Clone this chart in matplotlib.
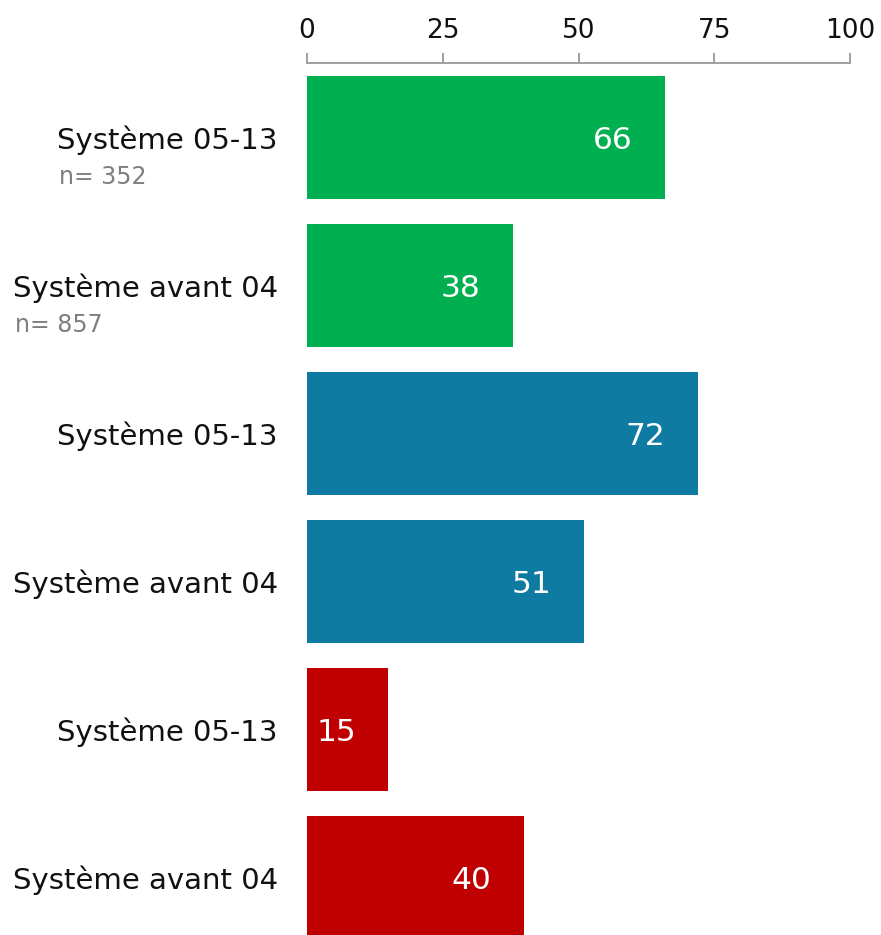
import matplotlib
matplotlib.use("Agg")
import matplotlib.pyplot as plt

plt.rcParams['font.family'] = ['DejaVu Sans']

categories = ["Système 05-13", "Système avant 04",
              "Système 05-13", "Système avant 04",
              "Système 05-13", "Système avant 04"]
values = [66, 38, 72, 51, 15, 40]
sample_sizes = ["n= 352", "n= 857", None, None, None, None]
bar_colors = ["#00B050", "#00B050", "#0F7BA3", "#0F7BA3", "#C00000", "#C00000"]
x_ticks = [0, 25, 50, 75, 100]

W, H, DPI = 881, 935, 100
fig = plt.figure(figsize=(W / DPI, H / DPI), dpi=DPI)
ax = fig.add_axes([307 / W, 0, (850 - 307) / W, 1 - 63 / H])

pos = list(range(len(values)))
ax.barh(pos, values, height=0.83, color=bar_colors, edgecolor="none")

ax.set_xlim(0, 100)
ax.set_ylim(5.39, -0.503)

# axis on top
ax.xaxis.set_ticks_position("top")
ax.xaxis.set_label_position("top")
ax.set_xticks(x_ticks)
ax.set_xticklabels([str(t) for t in x_ticks], fontsize=19, color="#111111")
ax.tick_params(axis="x", direction="out", length=7, width=1.3,
               color="#999999", pad=7)
for s in ["left", "right", "bottom"]:
    ax.spines[s].set_visible(False)
ax.spines["top"].set_color("#999999")
ax.spines["top"].set_linewidth(1.3)

# category labels
ax.set_yticks(pos)
ax.set_yticklabels(categories, fontsize=21, color="#111111")
ax.tick_params(axis="y", length=0, pad=21)

# value labels inside bars
for p, v in zip(pos, values):
    ax.text(v - 6, p + 0.02, f"{v}", ha="right", va="center", fontsize=22.5,
            color="white")

# sample sizes below the category labels, left-aligned with them
fig.canvas.draw()
renderer = fig.canvas.get_renderer()
inv = fig.transFigure.inverted()
for lbl, n in zip(ax.get_yticklabels(), sample_sizes):
    if n is None:
        continue
    bb = lbl.get_window_extent(renderer)
    x0, _ = inv.transform((bb.x0 + 2, 0))
    cy = (bb.y0 + bb.y1) / 2 - 37
    _, yf = inv.transform((0, cy))
    fig.text(x0, yf, n, ha="left", va="center", fontsize=17,
             color="#7F7F7F")

fig.savefig("out.png", dpi=DPI)
